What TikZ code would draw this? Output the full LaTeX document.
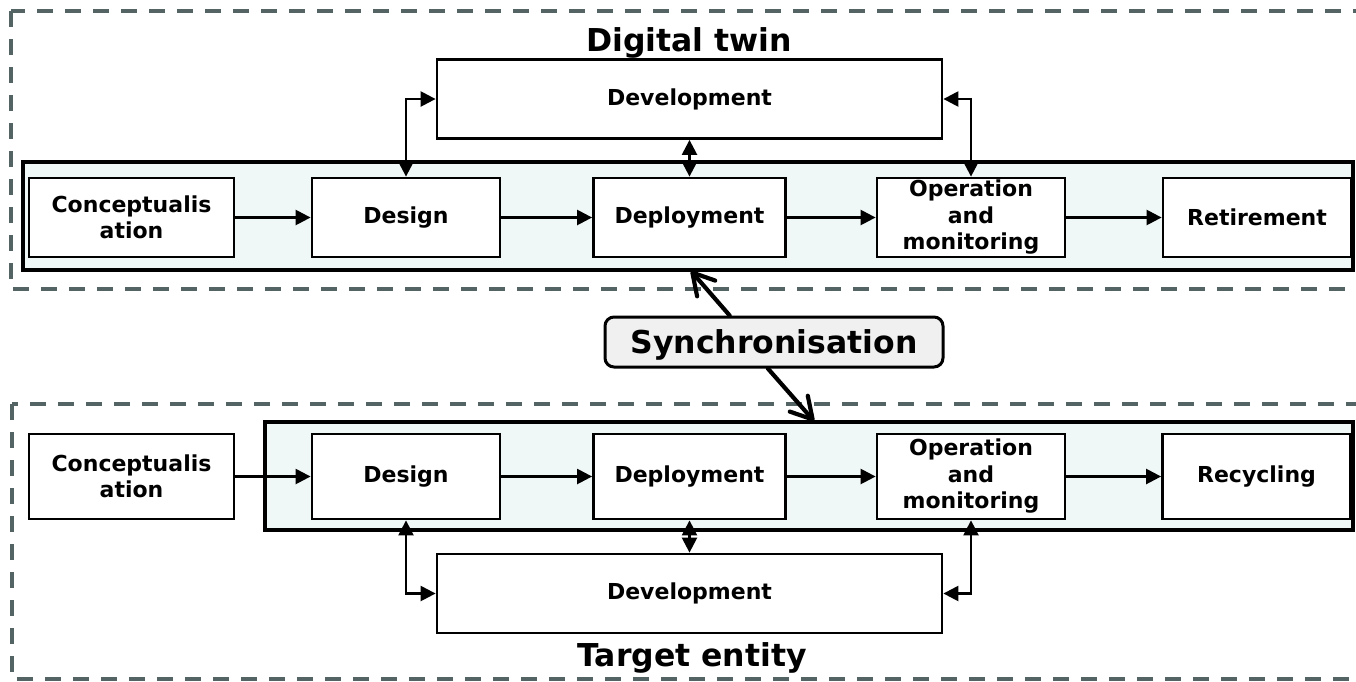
\documentclass[tikz,border=0pt]{standalone}
\usepackage{fontspec}
\setmainfont{DejaVu Sans}
\usetikzlibrary{arrows.meta,calc}
\definecolor{framegray}{RGB}{84,100,100}
\definecolor{bandfill}{RGB}{240,248,247}
\definecolor{syncfill}{RGB}{240,240,240}
\begin{document}
\begin{tikzpicture}[x=1pt,y=-1pt,
  stage/.style={draw,line width=2.8pt,fill=white,inner sep=0pt,align=center,
    font=\fontsize{22}{26.5}\selectfont\bfseries},
  rowtop/.style={stage,minimum height=79pt},
  rowbot/.style={stage,minimum height=85pt},
  devbox/.style={stage,minimum width=505pt,minimum height=79pt},
  band/.style={draw,line width=3.6pt,fill=bandfill},
  frame/.style={draw=framegray,line width=3.3pt,dash pattern=on 16pt off 12pt},
  title/.style={font=\fontsize{31.5}{36}\selectfont\bfseries,anchor=base,inner sep=0pt},
  tip/.tip={Triangle[length=15pt,width=15pt]},
  link/.style={line width=2.4pt,-tip},
  blink/.style={line width=2.4pt,tip-tip},
  syncline/.style={line width=4.2pt,line cap=round,
    -{Straight Barb[length=21pt,width=24pt,line cap=round,line join=round]}}
]
\useasboundingbox (0,0) rectangle (1356,681);
\clip (0,0) rectangle (1356,681);

% dashed group frames (their right sides run past the page)
\path[frame] (11,11) rectangle (1420,289);
\path[frame] (12,404) rectangle (1420,679);

% shaded life-cycle bands
\path[band] (23,162) rectangle (1353,270);
\path[band] (265,422) rectangle (1353,530);

% titles
\node[title] (dt) at (689,51) {Digital twin};
\node[title] (te) at (692,666) {Target entity};

% digital twin stages
\node[rowtop,minimum width=205pt] (c1) at (131.5,217.5) {Conceptualis\\ation};
\node[rowtop,minimum width=188pt] (d1) at (406,217.5) {Design};
\node[rowtop,minimum width=192pt] (p1) at (689.5,217.5) {Deployment};
\node[rowtop,minimum width=188pt] (o1) at (971,217.5) {Operation\\and\\monitoring};
\node[rowtop,minimum width=188pt] (r1) at (1257,217.5) {Retirement};
\node[devbox] (v1) at (689.5,99) {Development};

% target entity stages
\node[rowbot,minimum width=205pt] (c2) at (131.5,476.5) {Conceptualis\\ation};
\node[rowbot,minimum width=188pt] (d2) at (406,476.5) {Design};
\node[rowbot,minimum width=192pt] (p2) at (689.5,476.5) {Deployment};
\node[rowbot,minimum width=188pt] (o2) at (971,476.5) {Operation\\and\\monitoring};
\node[rowbot,minimum width=188pt] (r2) at (1256.5,476.5) {Recycling};
\node[devbox] (v2) at (689.5,593.5) {Development};

% stage flow
\draw[link] (c1) -- (d1);
\draw[link] (d1) -- (p1);
\draw[link] (p1) -- (o1);
\draw[link] (o1) -- (r1);
\draw[link] (c2) -- (d2);
\draw[link] (d2) -- (p2);
\draw[link] (p2) -- (o2);
\draw[link] (o2) -- (r2);

% development feedback loops
\draw[blink] (d1.north) |- (v1.west);
\draw[blink] (o1.north) |- (v1.east);
\draw[blink] (v1.south) -- (p1.north);
\draw[blink] (d2.south) |- (v2.west);
\draw[blink] (o2.south) |- (v2.east);
\draw[blink] (p2.south) -- (v2.north);

% synchronisation between twin and entity
\node[draw,line width=3pt,fill=syncfill,rounded corners=9pt,minimum width=338pt,
  minimum height=50pt,inner sep=0pt,text depth=0pt,
  font=\fontsize{31.5}{36}\selectfont\bfseries]
  (sync) at (774,342) {Synchronisation};
\coordinate (st) at (691,271);
\coordinate (sb) at (814,421);
\draw[syncline] ($(sync.north west)!0.37!(sync.north east)$) -- (st);
\draw[syncline] ($(sync.south west)!0.482!(sync.south east)$) -- (sb);
\end{tikzpicture}
\end{document}
